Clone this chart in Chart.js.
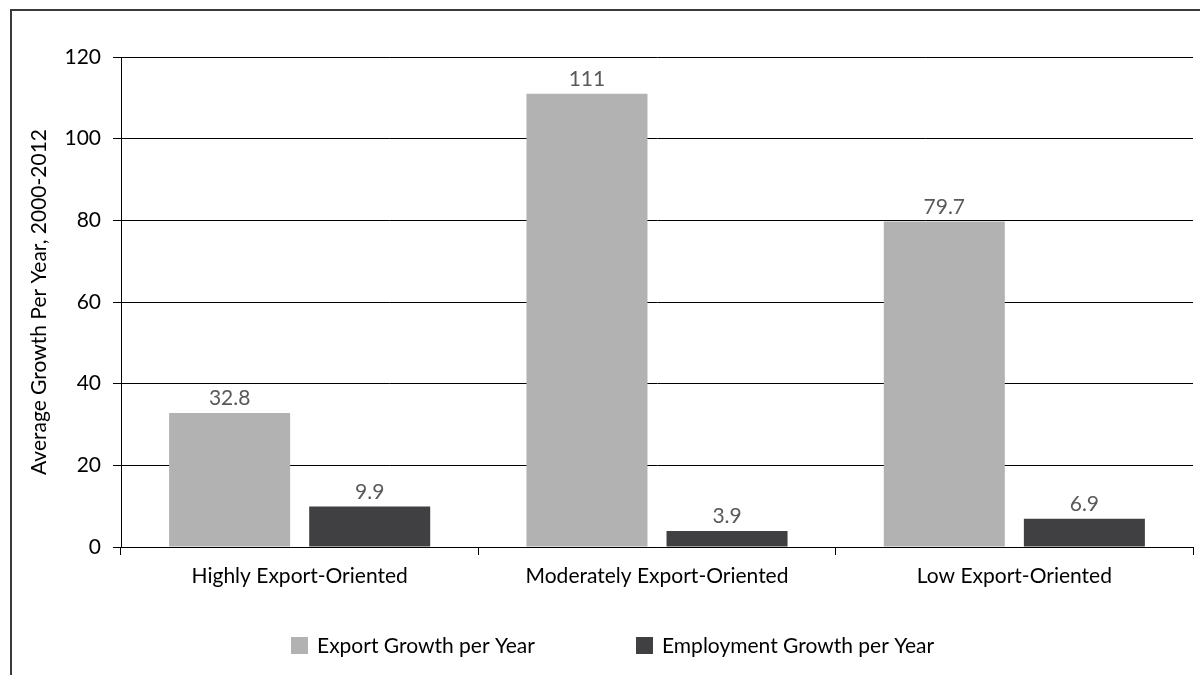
<!DOCTYPE html>
<html>
<head>
<meta charset="utf-8">
<script src="https://cdn.jsdelivr.net/npm/chart.js@4"></script>
<style>
  html, body { margin: 0; padding: 0; background: #fff; overflow: hidden; }
  #wrap { position: relative; width: 1200px; height: 675px; }
  #frame { position: absolute; left: 10px; top: 9px; width: 1300px; height: 800px; border: 2px solid #3a3a3a; box-sizing: border-box; }
  canvas { position: absolute; left: 0; top: 0; }
</style>
</head>
<body>
<div id="wrap">
  <div id="frame"></div>
  <canvas id="chart" width="1200" height="675"></canvas>
</div>
<script>
const categories = ['Highly Export-Oriented', 'Moderately Export-Oriented', 'Low Export-Oriented'];
const exportGrowth = [32.8, 111, 79.7];
const employmentGrowth = [9.9, 3.9, 6.9];
const yTicks = [0, 20, 40, 60, 80, 100, 120];

const FONT = 'Lato, "Open Sans", sans-serif';
const FONT_SIZE = 21;

// value labels above each bar
const barLabels = {
  id: 'barLabels',
  afterDatasetsDraw(chart) {
    const ctx = chart.ctx;
    ctx.save();
    ctx.font = FONT_SIZE + 'px ' + FONT;
    ctx.fillStyle = '#595959';
    ctx.textAlign = 'center';
    ctx.textBaseline = 'bottom';
    chart.data.datasets.forEach((ds, i) => {
      chart.getDatasetMeta(i).data.forEach((bar, j) => {
        ctx.fillText(String(ds.data[j]), bar.x, bar.y - 4);
      });
    });
    ctx.restore();
  }
};

// legend row along the bottom
const bottomLegend = {
  id: 'bottomLegend',
  afterDraw(chart) {
    const ctx = chart.ctx;
    const starts = [291, 636];
    ctx.save();
    ctx.font = FONT_SIZE + 'px ' + FONT;
    ctx.textBaseline = 'middle';
    chart.data.datasets.forEach((ds, i) => {
      const x = starts[i], y = 646;
      ctx.fillStyle = ds.backgroundColor;
      ctx.fillRect(x, y - 9, 17, 17);
      ctx.fillStyle = '#000';
      ctx.fillText(ds.label, x + 26, y);
    });
    ctx.restore();
  }
};

new Chart(document.getElementById('chart'), {
  type: 'bar',
  data: {
    labels: categories,
    datasets: [
      { label: 'Export Growth per Year', data: exportGrowth, backgroundColor: '#b2b2b3' },
      { label: 'Employment Growth per Year', data: employmentGrowth, backgroundColor: '#404042' }
    ]
  },
  options: {
    responsive: false,
    animation: false,
    devicePixelRatio: 1,
    categoryPercentage: 0.784,
    barPercentage: 0.864,
    layout: { padding: { top: 57, left: 23, right: 7, bottom: 0 } },
    plugins: { legend: { display: false }, tooltip: { enabled: false } },
    scales: {
      x: {
        grid: { offset: true, drawOnChartArea: false, drawTicks: true, tickLength: 8, color: '#000' },
        border: { display: true, color: '#000' },
        ticks: { color: '#000', padding: 9, font: { family: FONT, size: FONT_SIZE } },
        afterFit(scale) { scale.height = 128; }
      },
      y: {
        min: 0,
        max: 120,
        afterBuildTicks(scale) { scale.ticks = yTicks.map(v => ({ value: v })); },
        grid: { color: '#000', tickLength: 8 },
        border: { display: true, color: '#000' },
        ticks: { color: '#000', padding: 12, font: { family: FONT, size: FONT_SIZE } },
        title: {
          display: true,
          text: 'Average Growth Per Year, 2000-2012',
          color: '#000',
          font: { family: FONT, size: FONT_SIZE }
        },
        afterFit(scale) { scale.width = 98; }
      }
    }
  },
  plugins: [barLabels, bottomLegend]
});
</script>
</body>
</html>
